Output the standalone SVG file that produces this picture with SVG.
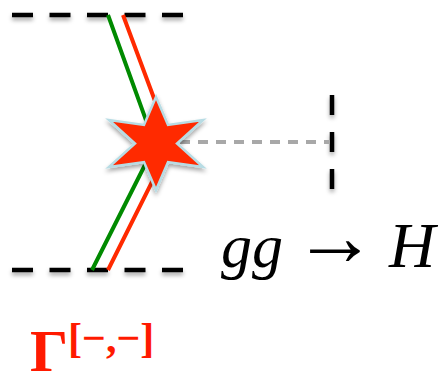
<svg xmlns="http://www.w3.org/2000/svg" width="443" height="378" viewBox="0 0 443 378">
<style>
.dash{stroke:#000;stroke-width:4.5;fill:none;filter:url(#sh)}
.grey{stroke:#a8a8a8;stroke-width:4;fill:none;stroke-dasharray:10 8}
.leg{fill:none;stroke-width:4;stroke-linejoin:miter}
.math{font-family:"Liberation Serif",serif;fill:#000}
.gam{font-family:"Liberation Serif",serif;font-weight:bold;fill:#ff1a00}
</style>
<defs>
<filter id="sh" filterUnits="userSpaceOnUse" x="0" y="0" width="443" height="378">
<feDropShadow dx="0" dy="3" stdDeviation="2" flood-color="#000" flood-opacity="0.35"/>
</filter>
</defs>
<g id="connectors">
<line id="top-cut" class="dash" x1="12" y1="15" x2="183" y2="15" stroke-dasharray="21 16.5"/>
<line id="bottom-cut" class="dash" x1="12" y1="270" x2="183" y2="270" stroke-dasharray="21 16.5"/>
<line id="vertical-cut" class="dash" x1="332" y1="95" x2="332" y2="190" stroke-dasharray="20 17"/>
<polyline id="green-gluon" class="leg" stroke="#008a00" points="108,15 155,145 92,270"/>
<polyline id="red-gluon" class="leg" stroke="#ff2a00" points="123,15 171,144 108,270"/>
<line id="higgs" class="grey" x1="180" y1="142" x2="330" y2="142"/>
</g>
<g id="vertex">
<path d="M156,97 L168,125 L203,120 L177,143.5 L203,167 L168,162 L156,190 L144,162 L109,167 L135,143.5 L109,120 L144,125 Z" fill="#ff2a00" stroke="#b8dce4" stroke-width="2.5" stroke-linejoin="miter" filter="url(#sh)"/>
</g>
<g id="label-process">
<text class="math" x="221" y="267" font-style="italic" font-size="62">gg</text>
<text class="math" x="293" y="265" font-size="84">→</text>
<text class="math" x="389" y="267" font-style="italic" font-size="64">H</text>
</g>
<g id="label-gamma">
<text class="gam" x="30" y="371" font-size="60" fill="#ff0000">Γ</text>
<text class="gam" x="68" y="352" font-size="42">[−,−]</text>
</g>
</svg>
